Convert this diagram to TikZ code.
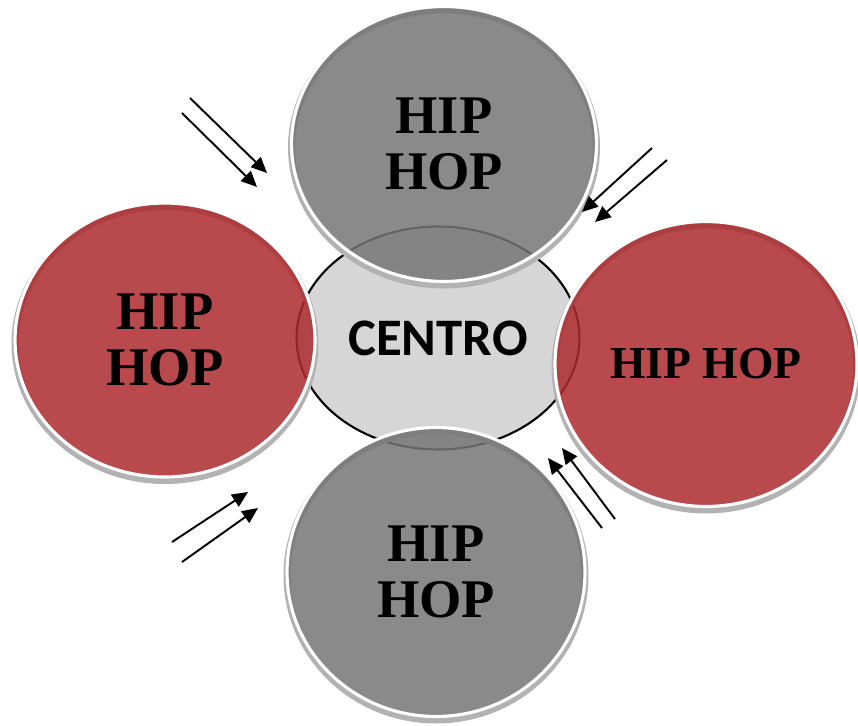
\documentclass[tikz,border=0pt]{standalone}
\usepackage{fontspec}
\setmainfont{Liberation Serif}
\newfontfamily\centrofont{Carlito}
\usetikzlibrary{shapes.geometric,arrows.meta}
\definecolor{hipred}{RGB}{172,42,47}
\definecolor{hipgray}{RGB}{118,118,118}
\definecolor{centrogray}{RGB}{214,214,214}
\tikzset{
  hipcircle/.style={ellipse, inner sep=0pt, draw=white, line width=1.8pt,
    fill opacity=0.85, text opacity=1, align=center,
    font=\bfseries\fontsize{31}{32}\selectfont,
    preaction={draw=gray!60, fill=none, line width=4pt, transform canvas={yshift=-2pt}}},
  centrobox/.style={ellipse, inner sep=0pt, draw=black, line width=1.2pt, fill=centrogray,
    font=\centrofont\bfseries\fontsize{30}{32}\selectfont},
  hiparrow/.style={-{Triangle[length=9pt,width=8pt]}, line width=1.1pt}
}
\begin{document}
\begin{tikzpicture}[x=0.02cm,y=-0.02cm]
  \useasboundingbox (0,0) rectangle (858,726);
  % centro
  \node[centrobox, minimum width=5.66cm, minimum height=4.46cm] (centro) at (438,338) {CENTRO};
  % los cuatro circulos
  \node[hipcircle, fill=hipgray, minimum width=6.1cm, minimum height=5.5cm] (arriba) at (444,144) {HIP\\HOP};
  \node[hipcircle, fill=hipgray, minimum width=5.96cm, minimum height=5.78cm] (abajo) at (436,572) {HIP\\HOP};
  \node[hipcircle, fill=hipred, minimum width=6.0cm, minimum height=5.48cm] (izq) at (165,340) {HIP\\HOP};
  \node[hipcircle, fill=hipred, minimum width=6.04cm, minimum height=5.7cm,
    font=\bfseries\fontsize{26}{28}\selectfont] (der) at (706,364) {HIP HOP};
  % flechas
  \coordinate (a1) at (190,98);  \coordinate (a1t) at (267,173);
  \coordinate (a2) at (182,113); \coordinate (a2t) at (257,187);
  \coordinate (b1) at (652,148); \coordinate (b1t) at (582,212);
  \coordinate (b2) at (667,160); \coordinate (b2t) at (595,222);
  \coordinate (c1) at (172,542); \coordinate (c1t) at (248,492);
  \coordinate (c2) at (182,562); \coordinate (c2t) at (258,508);
  \coordinate (d1) at (602,528); \coordinate (d1t) at (548,458);
  \coordinate (d2) at (615,519); \coordinate (d2t) at (562,448);
  \draw[hiparrow] (a1) -- (a1t);
  \draw[hiparrow] (a2) -- (a2t);
  \draw[hiparrow] (b1) -- (b1t);
  \draw[hiparrow] (b2) -- (b2t);
  \draw[hiparrow] (c1) -- (c1t);
  \draw[hiparrow] (c2) -- (c2t);
  \draw[hiparrow] (d1) -- (d1t);
  \draw[hiparrow] (d2) -- (d2t);
\end{tikzpicture}
\end{document}
